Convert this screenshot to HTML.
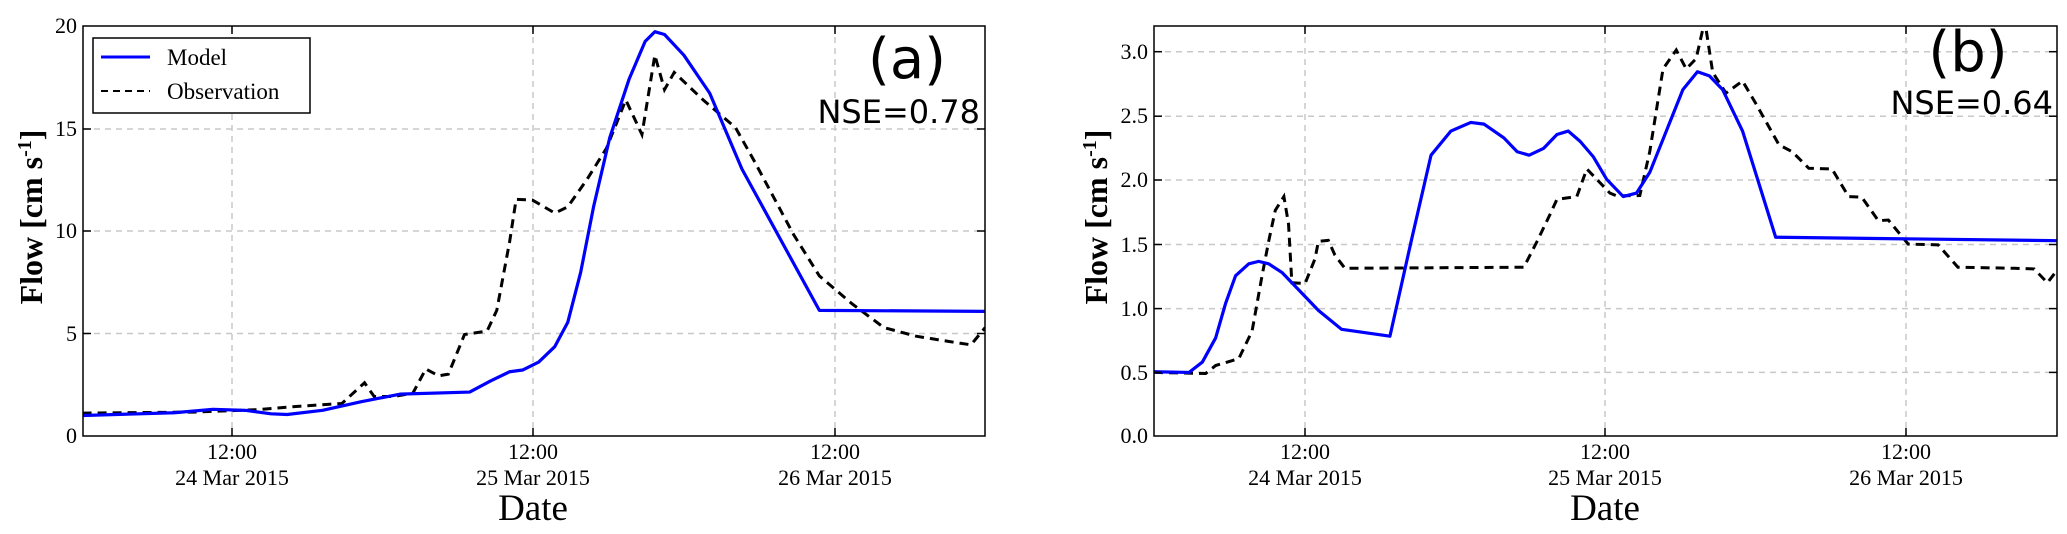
<!DOCTYPE html>
<html><head><meta charset="utf-8"><style>
html,body{margin:0;padding:0;background:#fff;}
svg{display:block;}
.t{font-family:"Liberation Serif",serif;font-size:22px;fill:#000;}
.s{font-family:"DejaVu Sans","Liberation Sans",sans-serif;fill:#000;}
</style></head><body>
<svg width="2067" height="534" viewBox="0 0 2067 534" xmlns="http://www.w3.org/2000/svg">
<defs>
<clipPath id="ca"><rect x="83" y="26" width="902" height="410"/></clipPath>
<clipPath id="cb"><rect x="1154" y="26" width="903" height="410"/></clipPath>
</defs>
<!-- Panel A -->
<g stroke="#c8c8c8" stroke-width="1.5" stroke-dasharray="6,5">
<line x1="232" y1="26" x2="232" y2="436"/><line x1="533" y1="26" x2="533" y2="436"/><line x1="835" y1="26" x2="835" y2="436"/>
<line x1="83" y1="333.5" x2="985" y2="333.5"/><line x1="83" y1="231" x2="985" y2="231"/><line x1="83" y1="129" x2="985" y2="129"/>
</g>
<g clip-path="url(#ca)">
<g transform="scale(0.64516,0.34483)">
<polyline fill="none" stroke="#000" stroke-width="3" stroke-dasharray="9,6" vector-effect="non-scaling-stroke" points="128,1198 300,1195 400,1188 450,1180 530,1170 565,1110 580,1150 610,1150 640,1140 660,1070 680,1090 695,1085 720,970 755,960 770,900 790,700 800,578 825,580 860,618 880,600 910,520 940,430 970,290 995,390 1015,160 1030,260 1045,210 1090,290 1140,370 1170,470 1230,680 1270,800 1320,880 1370,950 1420,975 1470,990 1505,1000 1527,950"/>
<polyline fill="none" stroke="#0000ff" stroke-width="3.2" stroke-linejoin="round" vector-effect="non-scaling-stroke" points="128,1205 270,1197 330,1187 380,1190 420,1200 445,1202 500,1190 560,1165 620,1143 728,1137 760,1105 790,1078 810,1073 835,1050 860,1005 880,935 900,790 920,600 945,400 975,230 1000,120 1015,92 1030,100 1060,160 1100,270 1150,490 1270,900 1527,903"/>
</g></g>
<rect x="83" y="26" width="902" height="410" fill="none" stroke="#000" stroke-width="1.5"/>
<g stroke="#000" stroke-width="1.5">
<line x1="232" y1="436" x2="232" y2="428"/><line x1="533" y1="436" x2="533" y2="428"/><line x1="835" y1="436" x2="835" y2="428"/>
<line x1="232" y1="26" x2="232" y2="34"/><line x1="533" y1="26" x2="533" y2="34"/><line x1="835" y1="26" x2="835" y2="34"/>
<line x1="83" y1="333.5" x2="91" y2="333.5"/><line x1="83" y1="231" x2="91" y2="231"/><line x1="83" y1="129" x2="91" y2="129"/>
<line x1="985" y1="333.5" x2="977" y2="333.5"/><line x1="985" y1="231" x2="977" y2="231"/><line x1="985" y1="129" x2="977" y2="129"/>
</g>
<g class="t" text-anchor="end">
<text x="77" y="443">0</text><text x="77" y="341">5</text><text x="77" y="238">10</text><text x="77" y="136">15</text><text x="77" y="33">20</text>
</g>
<g class="t" text-anchor="middle">
<text x="232" y="459">12:00</text><text x="533" y="459">12:00</text><text x="835" y="459">12:00</text>
<text x="232" y="485">24 Mar 2015</text><text x="533" y="485">25 Mar 2015</text><text x="835" y="485">26 Mar 2015</text>
<text x="533" y="520" style="font-size:37px">Date</text>
</g>
<text class="t" transform="translate(42,217) rotate(-90)" text-anchor="middle" style="font-size:32px;font-weight:bold">Flow [cm s<tspan dy="-11" style="font-size:20px">-1</tspan><tspan dy="11">]</tspan></text>
<rect x="93" y="38" width="217" height="75" fill="#fff" stroke="#000" stroke-width="1.5"/>
<line x1="101" y1="57" x2="150" y2="57" stroke="#0000ff" stroke-width="3"/>
<line x1="101" y1="91" x2="150" y2="91" stroke="#000" stroke-width="2" stroke-dasharray="7,5"/>
<text class="t" x="167" y="65" style="font-size:23px">Model</text>
<text class="t" x="167" y="99" style="font-size:23px">Observation</text>
<text class="s" x="907" y="78" text-anchor="middle" style="font-size:56px">(a)</text>
<text class="s" x="980" y="123" text-anchor="end" style="font-size:32px">NSE=0.78</text>

<!-- Panel B -->
<g stroke="#c8c8c8" stroke-width="1.5" stroke-dasharray="6,5">
<line x1="1305" y1="26" x2="1305" y2="436"/><line x1="1605" y1="26" x2="1605" y2="436"/><line x1="1906" y1="26" x2="1906" y2="436"/>
<line x1="1154" y1="372.4" x2="2057" y2="372.4"/><line x1="1154" y1="308.6" x2="2057" y2="308.6"/><line x1="1154" y1="244.5" x2="2057" y2="244.5"/>
<line x1="1154" y1="180" x2="2057" y2="180"/><line x1="1154" y1="116.2" x2="2057" y2="116.2"/><line x1="1154" y1="51.7" x2="2057" y2="51.7"/>
</g>
<g clip-path="url(#cb)">
<g transform="translate(1040,0) scale(0.66277,0.34483)">
<polyline fill="none" stroke="#000" stroke-width="3" stroke-dasharray="9,6" vector-effect="non-scaling-stroke" points="172,1080 250,1083 265,1060 300,1040 320,960 335,800 345,700 355,610 368,570 375,650 380,820 400,822 415,750 420,700 435,697 445,740 460,778 730,775 750,700 770,620 780,578 810,570 825,490 845,530 860,560 870,568 905,567 920,440 940,200 960,145 975,200 990,170 1003,60 1015,210 1035,270 1060,235 1080,300 1115,420 1135,440 1160,488 1195,490 1220,570 1240,572 1265,640 1280,638 1310,708 1355,710 1385,775 1470,778 1500,780 1520,820 1540,770"/>
<polyline fill="none" stroke="#0000ff" stroke-width="3.2" stroke-linejoin="round" vector-effect="non-scaling-stroke" points="172,1078 225,1080 245,1050 265,980 280,880 295,800 315,765 330,758 345,765 365,790 390,840 420,900 455,955 528,975 560,700 590,450 620,380 650,355 670,360 700,400 720,440 738,450 760,430 780,390 797,380 815,410 835,455 855,520 880,570 900,560 920,500 945,380 970,260 992,208 1010,220 1030,260 1060,380 1110,688 1535,698"/>
</g></g>
<rect x="1154" y="26" width="903" height="410" fill="none" stroke="#000" stroke-width="1.5"/>
<g stroke="#000" stroke-width="1.5">
<line x1="1305" y1="436" x2="1305" y2="428"/><line x1="1605" y1="436" x2="1605" y2="428"/><line x1="1906" y1="436" x2="1906" y2="428"/>
<line x1="1305" y1="26" x2="1305" y2="34"/><line x1="1605" y1="26" x2="1605" y2="34"/><line x1="1906" y1="26" x2="1906" y2="34"/>
<line x1="1154" y1="372.4" x2="1162" y2="372.4"/><line x1="1154" y1="308.6" x2="1162" y2="308.6"/><line x1="1154" y1="244.5" x2="1162" y2="244.5"/><line x1="1154" y1="180" x2="1162" y2="180"/><line x1="1154" y1="116.2" x2="1162" y2="116.2"/><line x1="1154" y1="51.7" x2="1162" y2="51.7"/>
<line x1="2057" y1="372.4" x2="2049" y2="372.4"/><line x1="2057" y1="308.6" x2="2049" y2="308.6"/><line x1="2057" y1="244.5" x2="2049" y2="244.5"/><line x1="2057" y1="180" x2="2049" y2="180"/><line x1="2057" y1="116.2" x2="2049" y2="116.2"/><line x1="2057" y1="51.7" x2="2049" y2="51.7"/>
</g>
<g class="t" text-anchor="end">
<text x="1148" y="443">0.0</text><text x="1148" y="380">0.5</text><text x="1148" y="316">1.0</text><text x="1148" y="252">1.5</text><text x="1148" y="187">2.0</text><text x="1148" y="123">2.5</text><text x="1148" y="59">3.0</text>
</g>
<g class="t" text-anchor="middle">
<text x="1305" y="459">12:00</text><text x="1605" y="459">12:00</text><text x="1906" y="459">12:00</text>
<text x="1305" y="485">24 Mar 2015</text><text x="1605" y="485">25 Mar 2015</text><text x="1906" y="485">26 Mar 2015</text>
<text x="1605" y="520" style="font-size:37px">Date</text>
</g>
<text class="t" transform="translate(1107,217) rotate(-90)" text-anchor="middle" style="font-size:32px;font-weight:bold">Flow [cm s<tspan dy="-11" style="font-size:20px">-1</tspan><tspan dy="11">]</tspan></text>
<text class="s" x="1968" y="71" text-anchor="middle" style="font-size:56px">(b)</text>
<text class="s" x="2053" y="114" text-anchor="end" style="font-size:32px">NSE=0.64</text>
</svg>
</body></html>
